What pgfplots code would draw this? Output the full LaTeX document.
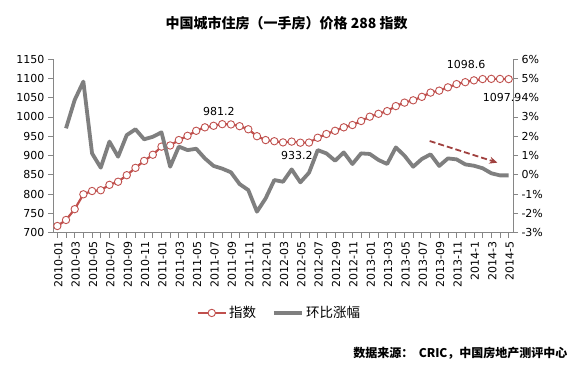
\documentclass[border=0pt]{standalone}
\usepackage{pgfplots}
\pgfplotsset{compat=1.18}
\usepackage{pgfplotstable}
\usepackage{fontspec}
\usetikzlibrary{arrows.meta}
\setmainfont{DejaVu Sans}
\newfontfamily\cjk{Noto Sans CJK SC}
\definecolor{idxred}{HTML}{C0504D}
\definecolor{chggray}{HTML}{7F7F7F}
\definecolor{axgray}{HTML}{868686}
\definecolor{arrred}{HTML}{A0413F}

\pgfplotstableread{
x idx
0 717.4
1 733
2 761
3 799.5
4 808
5 810
6 824
7 832
8 849
9 868
10 886
11 902
12 923
13 926
14 940
15 951
16 964
17 973
18 977
19 981.2
20 980.5
21 976
22 968
23 950
24 940
25 937
26 934
27 936
28 933.2
29 933.5
30 946
31 955.7
32 964
33 973
34 979
35 989.4
36 1000.6
37 1008
38 1015
39 1028
40 1037
41 1043
42 1052
43 1063
44 1068
45 1076.6
46 1085
47 1090
48 1094.7
49 1098
50 1098.6
51 1098.4
52 1097.9
}\idxtable

\pgfplotstableread{
x chg
1 2.41
2 3.88
3 4.83
4 1.11
5 0.37
6 1.72
7 0.94
8 2.06
9 2.36
10 1.84
11 1.97
12 2.20
13 0.42
14 1.46
15 1.28
16 1.35
17 0.85
18 0.46
19 0.32
20 0.13
21 -0.48
22 -0.79
23 -1.91
24 -1.22
25 -0.27
26 -0.36
27 0.28
28 -0.39
29 0.11
30 1.28
31 1.11
32 0.73
33 1.16
34 0.56
35 1.11
36 1.08
37 0.77
38 0.56
39 1.42
40 0.99
41 0.42
42 0.82
43 1.06
44 0.46
45 0.85
46 0.80
47 0.54
48 0.47
49 0.34
50 0.08
51 -0.03
52 -0.03
}\chgtable

\begin{document}
\begin{tikzpicture}
\path[use as bounding box] (0,0) rectangle (587bp,-370bp);
\node[font=\cjk\bfseries\fontsize{14bp}{16bp}\selectfont] at (286.7bp,-23bp) {中国城市住房（一手房）价格 288 指数};
\node[font=\cjk\bfseries\fontsize{12bp}{14bp}\selectfont, anchor=east] at (571bp,-353.3bp) {数据来源：\ \ CRIC，中国房地产测评中心};

\pgfplotsset{
  every axis/.append style={
    at={(53bp,-232.7bp)}, anchor=south west,
    scale only axis, width=460bp, height=173.7bp,
    xmin=-0.5, xmax=52.5,
    axis line style={draw=axgray, line width=0.8bp, -},
    tick style={draw=axgray, line width=0.8bp},
    tick align=outside, major tick length=5bp,
    tick label style={font=\fontsize{11bp}{13bp}\selectfont},
    /pgf/number format/assume math mode=true,
    clip=false,
  }
}

\begin{axis}[
  ymin=700, ymax=1150,
  axis x line*=bottom, axis y line*=left,
  ytick={700,750,...,1150},
  yticklabel style={/pgf/number format/1000 sep={}},
  xtick={0,...,52},
  xticklabels={2010-01,,2010-03,,2010-05,,2010-07,,2010-09,,2010-11,,2011-01,,2011-03,,2011-05,,2011-07,,2011-09,,2011-11,,2012-01,,2012-03,,2012-05,,2012-07,,2012-09,,2012-11,,2013-01,,2013-03,,2013-05,,2013-07,,2013-09,,2013-11,,2014-1,,2014-3,,2014-5},
  xticklabel style={rotate=90, anchor=east, yshift=-1bp},
]
\addplot[color=idxred, line width=2.2bp, mark=*, mark size=3.7bp, mark options={fill=white, draw=idxred, line width=0.9bp}] table[x=x,y=idx] {\idxtable};
\node[font=\fontsize{11bp}{13bp}\selectfont] at (axis cs:18.6,1013.7) {981.2};
\node[font=\fontsize{11bp}{13bp}\selectfont] at (axis cs:27.6,901) {933.2};
\node[font=\fontsize{11bp}{13bp}\selectfont] at (axis cs:47.1,1134.5) {1098.6};
\node[font=\fontsize{11bp}{13bp}\selectfont, anchor=east, inner xsep=0pt] at (axis cs:53.5,1050) {1097.9};
\end{axis}

\begin{axis}[
  ymin=-3, ymax=6,
  axis x line=none, axis y line*=right,
  ytick={-3,...,6},
  yticklabels={-3\%,-2\%,-1\%,0\%,1\%,2\%,3\%,4\%,5\%,6\%},
  yticklabel style={anchor=west},
  legend columns=2,
  legend style={draw=none, fill=none, at={(0.492,-0.462)}, anchor=center,
    font=\cjk\fontsize{13.5bp}{15bp}\selectfont,
    /tikz/every even column/.append style={column sep=14bp}},
  legend image code/.code={\draw[mark repeat=2, mark phase=2] plot coordinates {(0cm,0cm) (0.5cm,0cm) (1cm,0cm)};},
]
\addlegendimage{color=idxred, line width=2.2bp, mark=*, mark size=3.7bp, mark options={fill=white, draw=idxred, line width=0.9bp}}
\addlegendentry{指数}
\addplot[color=chggray, line width=3.8bp, line join=round] table[x=x,y=chg] {\chgtable};
\addlegendentry{环比涨幅}
\draw[arrred, line width=1.8bp, dash pattern=on 6bp off 3bp, -{Stealth[length=8bp,width=7bp]}] (axis cs:42.9,1.75) -- (axis cs:50.7,0.63);
\end{axis}
\end{tikzpicture}
\end{document}
